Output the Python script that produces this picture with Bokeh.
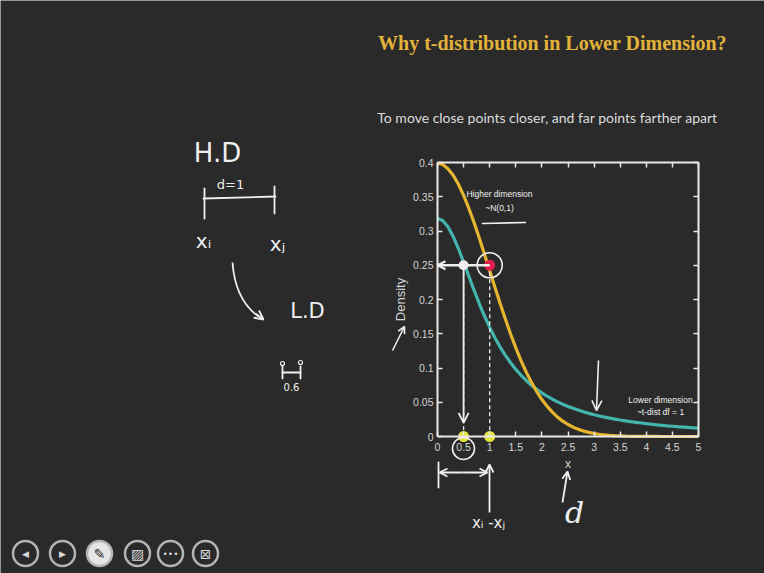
from bokeh.plotting import figure
from bokeh.models import (Range1d, LinearAxis, FixedTicker, Label, Arrow,
                          OpenHead, ColumnDataSource)
from bokeh.embed import file_html
from bokeh.resources import INLINE

# ---------------------------------------------------------------- data
x_vals = [0.0, 0.1, 0.2, 0.3, 0.4, 0.5, 0.6, 0.7, 0.8, 0.9,
          1.0, 1.1, 1.2, 1.3, 1.4, 1.5, 1.6, 1.7, 1.8, 1.9,
          2.0, 2.1, 2.2, 2.3, 2.4, 2.5, 2.6, 2.7, 2.8, 2.9,
          3.0, 3.1, 3.2, 3.3, 3.4, 3.5, 3.6, 3.7, 3.8, 3.9,
          4.0, 4.1, 4.2, 4.3, 4.4, 4.5, 4.6, 4.7, 4.8, 4.9, 5.0]

# higher dimension: ~N(0,1)
normal_density = [0.3989, 0.3970, 0.3910, 0.3814, 0.3683, 0.3521, 0.3332, 0.3123, 0.2897, 0.2661,
                  0.2420, 0.2179, 0.1942, 0.1714, 0.1497, 0.1295, 0.1109, 0.0940, 0.0790, 0.0656,
                  0.0540, 0.0440, 0.0355, 0.0283, 0.0224, 0.0175, 0.0136, 0.0104, 0.0079, 0.0060,
                  0.0044, 0.0033, 0.0024, 0.0017, 0.0012, 0.0009, 0.0006, 0.0004, 0.0003, 0.0002,
                  0.0001, 0.0001, 0.0001, 0.0000, 0.0000, 0.0000, 0.0000, 0.0000, 0.0000, 0.0000, 0.0000]

# lower dimension: t-dist, df = 1
t_density = [0.3183, 0.3152, 0.3061, 0.2920, 0.2744, 0.2546, 0.2341, 0.2136, 0.1941, 0.1759,
             0.1592, 0.1441, 0.1305, 0.1184, 0.1076, 0.0979, 0.0894, 0.0818, 0.0749, 0.0688,
             0.0637, 0.0588, 0.0544, 0.0505, 0.0471, 0.0439, 0.0411, 0.0385, 0.0360, 0.0338,
             0.0318, 0.0300, 0.0283, 0.0268, 0.0254, 0.0241, 0.0229, 0.0217, 0.0207, 0.0197,
             0.0187, 0.0179, 0.0170, 0.0163, 0.0156, 0.0150, 0.0143, 0.0138, 0.0132, 0.0127, 0.0122]

# equal density level and the distances where each curve reaches it
level = 0.25
low_dim_x = 0.5     # t-dist
high_dim_x = 1.0    # normal

x_min, x_max = 0, 5
y_min, y_max = 0, 0.4
x_tick_values = [0, 0.5, 1, 1.5, 2, 2.5, 3, 3.5, 4, 4.5, 5]
x_tick_labels = ["0", "0.5", "1", "1.5", "2", "2.5", "3", "3.5", "4", "4.5", "5"]
y_tick_values = [0, 0.05, 0.1, 0.15, 0.2, 0.25, 0.3, 0.35, 0.4]
y_tick_labels = ["0", "0.05", "0.1", "0.15", "0.2", "0.25", "0.3", "0.35", "0.4"]

# ---------------------------------------------------------------- style
BG = "#2a2a2a"
GOLD = "#e6b530"
TEAL = "#43b5ad"
CHALK = "#efefef"
AXIS = "#e8e8e8"
TICK_TEXT = "#d4d4d4"

W, H = 764, 573
FL, FR, FT, FB = 437, 698, 162, 436   # chart box edges in page pixels

# The page itself uses pixel coordinates (y grows downwards); the chart
# lives on its own pair of ranges that map the data box onto FL..FR, FT..FB.
px_x = (FR - FL) / (x_max - x_min)
px_y = (FB - FT) / (y_max - y_min)
chart_x = Range1d(x_min - FL / px_x, x_max + (W - FR) / px_x)
chart_y = Range1d(y_min - (H - FB) / px_y, y_max + FT / px_y)

p = figure(width=W, height=H, x_range=Range1d(0, W), y_range=Range1d(H, 0),
           x_axis_type=None, y_axis_type=None,
           output_backend="svg", toolbar_location=None,
           min_border=0, background_fill_color=BG, border_fill_color=BG,
           outline_line_color=None)
p.grid.visible = False
p.extra_x_ranges = {"cx": chart_x}
p.extra_y_ranges = {"cy": chart_y}
C = dict(x_range_name="cx", y_range_name="cy")


def chart_axis(side, fixed, ticks, labels, bounds, show):
    ax = LinearAxis(fixed_location=fixed, bounds=bounds, **C)
    ax.ticker = FixedTicker(ticks=ticks, minor_ticks=[])
    ax.axis_line_color = AXIS
    ax.axis_line_width = 2
    ax.major_tick_line_color = AXIS
    ax.major_tick_line_width = 1.5
    ax.major_tick_in = 5
    ax.major_tick_out = 0
    ax.minor_tick_line_color = None
    ax.major_label_text_font = "Liberation Sans"
    ax.major_label_text_font_size = "10.5px"
    ax.major_label_text_color = TICK_TEXT if show else None
    ax.major_label_overrides = dict(zip(ticks, labels))
    ax.axis_label_text_font = "Liberation Sans"
    ax.axis_label_text_font_size = "12px"
    ax.axis_label_text_font_style = "normal"
    ax.axis_label_text_color = TICK_TEXT
    p.add_layout(ax, side)
    return ax


bottom = chart_axis("below", y_min, x_tick_values, x_tick_labels, (x_min, x_max), True)
left = chart_axis("left", x_min, y_tick_values, y_tick_labels, (y_min, y_max), True)
chart_axis("above", y_max, x_tick_values, x_tick_labels, (x_min, x_max), False)
chart_axis("right", x_max, y_tick_values, y_tick_labels, (y_min, y_max), False)
bottom.axis_label = "x"
bottom.major_label_standoff = 6
bottom.axis_label_standoff = 3
left.axis_label = "Density"
left.axis_label_text_font_size = "13px"
left.major_label_standoff = 4
left.axis_label_standoff = 2

# ---------------------------------------------------------------- curves
src = ColumnDataSource(dict(x=x_vals, normal=normal_density, t=t_density))
p.line("x", "t", source=src, line_color=TEAL, line_width=3.2, **C)
p.line("x", "normal", source=src, line_color=GOLD, line_width=3.2, **C)

# dashed drops from the equal-density level to the x axis
p.segment(x0=[low_dim_x, high_dim_x], y0=[level, level],
          x1=[low_dim_x, high_dim_x], y1=[0, 0],
          line_color=CHALK, line_width=1.3, line_dash="4 3", **C)
# pointers along the density level and down to the shorter distance
p.add_layout(Arrow(x_start=high_dim_x, y_start=level, x_end=x_min, y_end=level,
                   line_color=CHALK, line_width=2.5,
                   end=OpenHead(size=8, line_color=CHALK, line_width=2), **C))
p.add_layout(Arrow(x_start=low_dim_x, y_start=level, x_end=low_dim_x, y_end=0.02,
                   line_color=CHALK, line_width=1.8,
                   end=OpenHead(size=10, line_color=CHALK, line_width=1.8), **C))

p.scatter([low_dim_x], [level], size=10, fill_color="#f3e6ef", line_color=None, **C)
p.scatter([high_dim_x], [level], size=11, fill_color="#e01e4c", line_color=None, **C)
p.scatter([high_dim_x], [level], size=25, fill_color=None, line_color=CHALK, line_width=1.6, **C)
p.scatter([low_dim_x, high_dim_x], [y_min, y_min], size=11, fill_color="#e4e43a",
          line_color=None, **C)


# ---------------------------------------------------------------- page helpers (pixels)
def text(t, X, Y, size, color=CHALK, font="Liberation Sans", style="normal", align="center"):
    p.add_layout(Label(x=X, y=Y, text=t, text_font=font, text_font_size=f"{size}px",
                       text_font_style=style, text_color=color, text_align=align,
                       text_baseline="middle"))


def stroke(X0, Y0, X1, Y1, width=1.8, head=None, color=CHALK):
    if head:
        p.add_layout(Arrow(x_start=X0, y_start=Y0, x_end=X1, y_end=Y1,
                           line_color=color, line_width=width,
                           end=OpenHead(size=head, line_color=color, line_width=width)))
    else:
        p.line([X0, X1], [Y0, Y1], line_color=color, line_width=width, line_cap="round")


def ring(cx, cy, r, line_color=CHALK, fill_color=None, width=1.6):
    p.scatter([cx], [cy], size=2 * r, line_color=line_color, line_width=width,
              fill_color=fill_color)


# ---------------------------------------------------------------- headings
text("Why t-distribution in Lower Dimension?", 552, 42, 20, color="#e3b23a",
     font="Liberation Serif", style="bold")
text("To move close points closer, and far points farther apart", 547, 117, 14,
     color="#dcdcdc", font="Lato")

# ---------------------------------------------------------------- curve notes
text("Higher dimension", 499, 193, 8.5)
text("~N(0,1)", 499, 207, 8.5)
stroke(482, 223, 525, 222, width=1.6)
text("Lower dimension", 660, 399, 8.5)
text("~t-dist df = 1", 660, 411, 8.5)
stroke(598, 360, 596, 410, width=1.6, head=10)
ring(463, 448, 11)
stroke(392, 350, 404, 326, width=1.6, head=7)

# distance bracket under the axis
stroke(438, 462, 438, 487)
stroke(462, 472, 439, 472, head=8)
stroke(462, 472, 487, 472, head=8)
stroke(489, 512, 489, 464, head=8)
text("x\u1d62 -x\u2c7c", 488, 522, 15, font="DejaVu Sans")
stroke(562, 502, 567, 471, head=8)
text("d", 574, 512, 30, font="DejaVu Serif", style="italic")

# ---------------------------------------------------------------- board notes
text("H.D", 217, 152, 26, font="DejaVu Sans")
text("d=1", 230, 184, 13, font="DejaVu Sans")
stroke(203, 198, 275, 196)
stroke(204, 188, 204, 218)
stroke(274, 186, 274, 213)
text("x\u1d62", 203, 240, 20, font="DejaVu Sans")
text("x\u2c7c", 277, 243, 20, font="DejaVu Sans")
p.bezier(x0=[232], y0=[262], x1=[258], y1=[316], cx0=[234], cy0=[290], cx1=[244], cy1=[306],
         line_color=CHALK, line_width=1.8)
stroke(255, 313, 263, 319, head=9)
text("L.D", 307, 310, 21, font="DejaVu Sans")
stroke(282, 372, 300, 372)
stroke(282, 366, 282, 378)
stroke(300, 366, 300, 378)
ring(282, 363, 2, width=1.2)
ring(300, 362, 2, width=1.2)
text("0.6", 291, 386, 10, font="DejaVu Sans")

# ---------------------------------------------------------------- slide controls
controls = [("\u25c0", 25), ("\u25b6", 62), ("\u270e", 99), ("\u25a8", 137),
            ("\u2022\u2022\u2022", 170), ("\u22a0", 205)]
for glyph, cx in controls:
    filled = glyph == "\u270e"
    ring(cx, 553, 12.5, line_color="#b4b4b4", fill_color="#e6e6e6" if filled else None, width=2.5)
    text(glyph, cx, 553, 9 if glyph in ("\u25c0", "\u25b6", "\u2022\u2022\u2022") else 14,
         color="#2a2a2a" if filled else "#d8d8d8", font="DejaVu Sans")

open("out.html", "w").write(file_html(p, INLINE))
